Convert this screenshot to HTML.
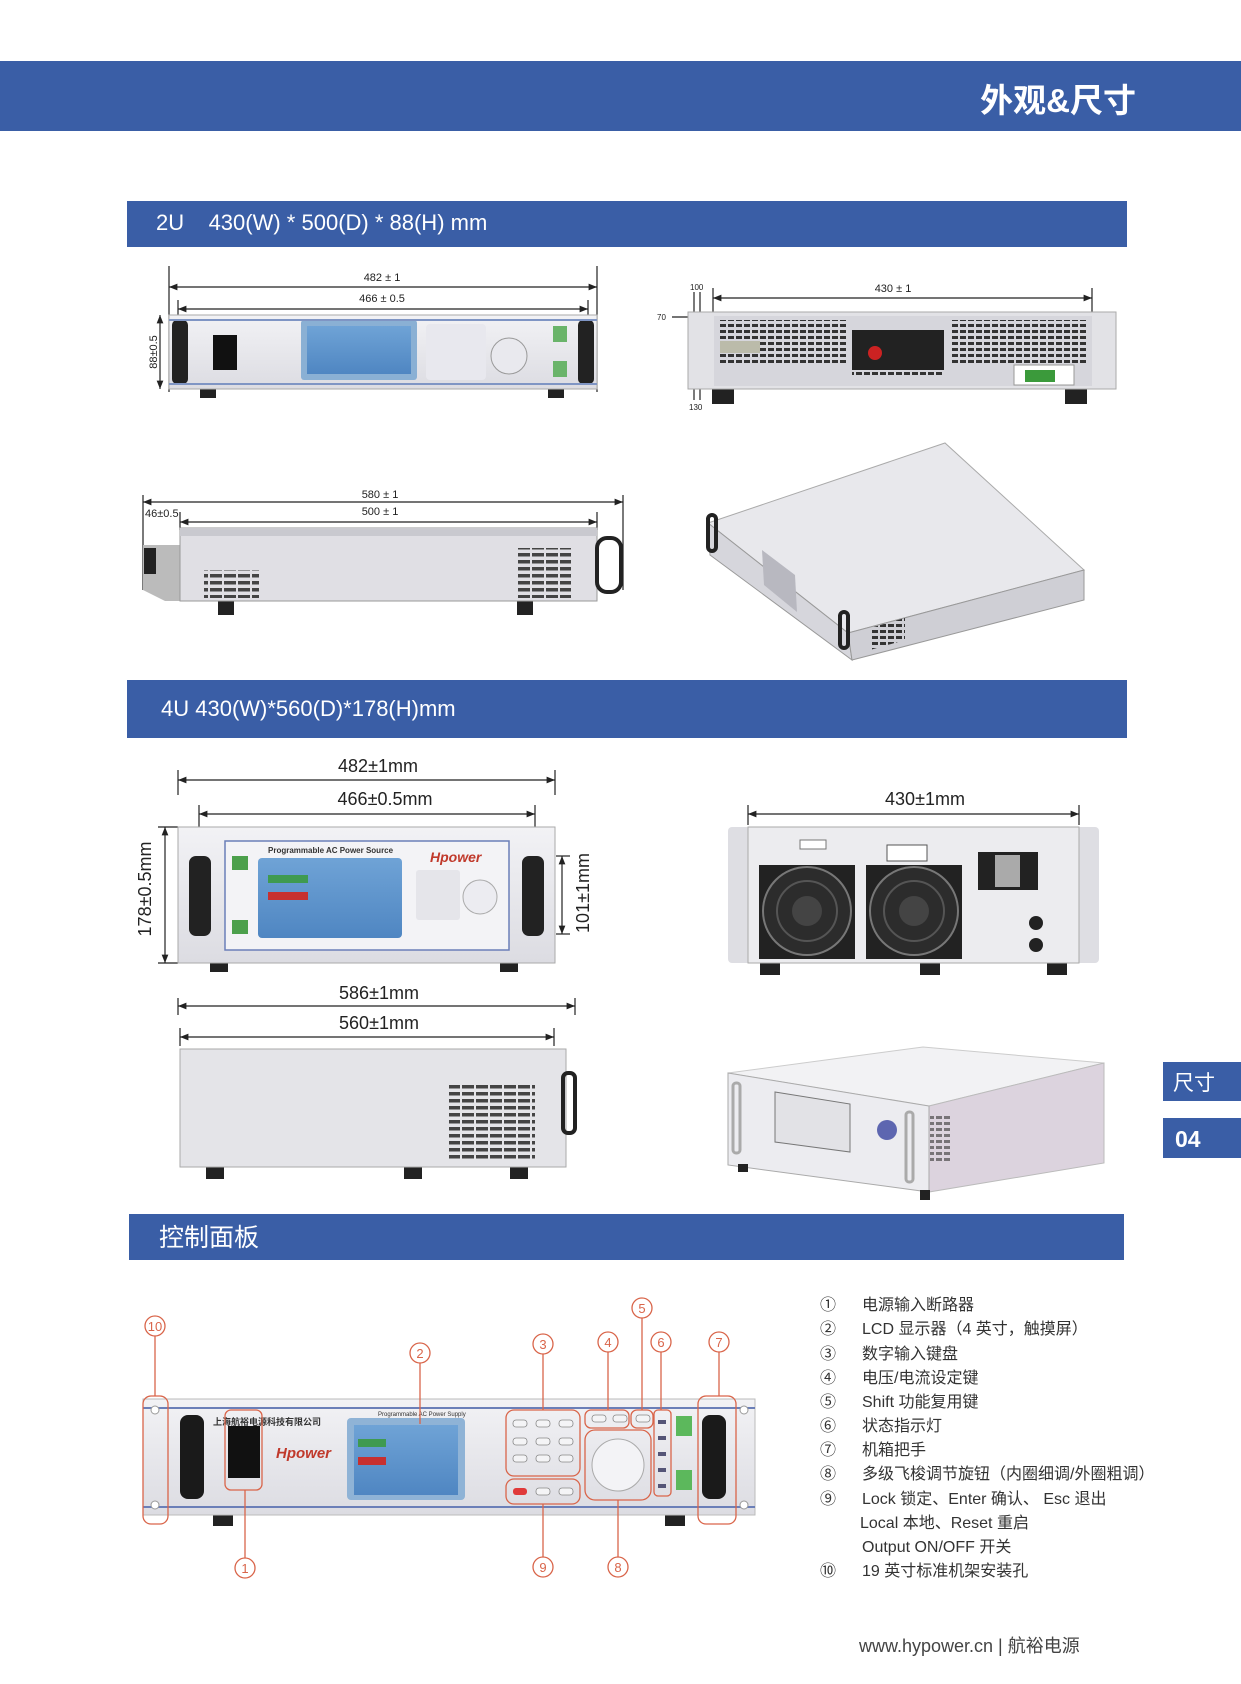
<!DOCTYPE html>
<html><head><meta charset="utf-8"><style>
html,body{margin:0;padding:0;background:#fff;}
svg{display:block;}
text{font-family:"Liberation Sans","Noto Sans CJK SC",sans-serif;}
</style></head><body>
<svg width="1241" height="1684" viewBox="0 0 1241 1684" xmlns="http://www.w3.org/2000/svg">
<defs>
<marker id="a" viewBox="0 0 10 10" refX="10" refY="5" markerWidth="7" markerHeight="7" orient="auto-start-reverse"><path d="M0,1 L10,5 L0,9 z" fill="#222"/></marker>
<linearGradient id="g1" x1="0" y1="0" x2="0" y2="1"><stop offset="0" stop-color="#f2f2f5"/><stop offset="1" stop-color="#dcdce2"/></linearGradient>
<linearGradient id="lcd" x1="0" y1="0" x2="0" y2="1"><stop offset="0" stop-color="#6fa3d6"/><stop offset="1" stop-color="#4f86c2"/></linearGradient>
<pattern id="vent" width="8" height="6" patternUnits="userSpaceOnUse"><rect width="6" height="3" fill="#333"/></pattern>
<pattern id="vent2" width="14" height="7" patternUnits="userSpaceOnUse"><rect width="12" height="3.5" fill="#444"/></pattern>
</defs>

<!-- top banner -->
<rect x="0" y="61" width="1241" height="70" fill="#3a5ea6"/>
<text x="1136" y="112" text-anchor="end" font-size="33" font-weight="bold" fill="#fff">外观&amp;尺寸</text>

<!-- section bars -->
<rect x="127" y="201" width="1000" height="46" fill="#3a5ea6"/>
<text x="156" y="230" font-size="22" fill="#fff" xml:space="preserve">2U    430(W) * 500(D) * 88(H) mm</text>
<rect x="127" y="680" width="1000" height="58" fill="#3a5ea6"/>
<text x="161" y="716" font-size="22" fill="#fff">4U 430(W)*560(D)*178(H)mm</text>
<rect x="129" y="1214" width="995" height="46" fill="#3a5ea6"/>
<text x="159" y="1246" font-size="25" fill="#fff">控制面板</text>

<!-- side tabs -->
<rect x="1163" y="1062" width="78" height="39" fill="#3a5ea6"/>
<text x="1173" y="1090" font-size="21" fill="#fff">尺寸</text>
<rect x="1163" y="1118" width="78" height="40" fill="#3a5ea6"/>
<text x="1175" y="1147" font-size="23" font-weight="bold" fill="#fff">04</text>

<g stroke="#222" stroke-width="1.2" fill="none">
<!-- 2U front dims -->
<line x1="169" y1="266" x2="169" y2="392"/><line x1="597" y1="266" x2="597" y2="392"/>
<line x1="169" y1="287" x2="597" y2="287" marker-start="url(#a)" marker-end="url(#a)"/>
<line x1="178" y1="300" x2="178" y2="320"/><line x1="588" y1="300" x2="588" y2="320"/>
<line x1="178" y1="309" x2="588" y2="309" marker-start="url(#a)" marker-end="url(#a)"/>
<line x1="160" y1="315" x2="160" y2="389" marker-start="url(#a)" marker-end="url(#a)"/>
<!-- 2U rear dims -->
<line x1="713" y1="288" x2="713" y2="315"/><line x1="1092" y1="288" x2="1092" y2="315"/>
<line x1="713" y1="298" x2="1092" y2="298" marker-start="url(#a)" marker-end="url(#a)"/>
<line x1="694" y1="292" x2="694" y2="318"/><line x1="700" y1="292" x2="700" y2="318"/>
<line x1="672" y1="317" x2="700" y2="317"/>
<line x1="694" y1="382" x2="694" y2="400"/><line x1="700" y1="382" x2="700" y2="400"/>
<!-- 2U side dims -->
<line x1="143" y1="495" x2="143" y2="590"/><line x1="623" y1="495" x2="623" y2="590"/>
<line x1="143" y1="502" x2="623" y2="502" marker-start="url(#a)" marker-end="url(#a)"/>
<line x1="180" y1="512" x2="180" y2="530"/><line x1="597" y1="512" x2="597" y2="530"/>
<line x1="180" y1="522" x2="597" y2="522" marker-start="url(#a)" marker-end="url(#a)"/>
<!-- 4U front dims -->
<line x1="178" y1="770" x2="178" y2="795"/><line x1="555" y1="770" x2="555" y2="795"/>
<line x1="178" y1="780" x2="555" y2="780" marker-start="url(#a)" marker-end="url(#a)"/>
<line x1="199" y1="805" x2="199" y2="830"/><line x1="535" y1="805" x2="535" y2="830"/>
<line x1="199" y1="814" x2="535" y2="814" marker-start="url(#a)" marker-end="url(#a)"/>
<line x1="165" y1="827" x2="165" y2="963" marker-start="url(#a)" marker-end="url(#a)"/>
<line x1="158" y1="827" x2="178" y2="827"/><line x1="158" y1="963" x2="178" y2="963"/>
<line x1="562" y1="856" x2="562" y2="934" marker-start="url(#a)" marker-end="url(#a)"/>
<line x1="556" y1="856" x2="570" y2="856"/><line x1="556" y1="934" x2="570" y2="934"/>
<!-- 4U rear dims -->
<line x1="748" y1="805" x2="748" y2="825"/><line x1="1079" y1="805" x2="1079" y2="825"/>
<line x1="748" y1="814" x2="1079" y2="814" marker-start="url(#a)" marker-end="url(#a)"/>
<!-- 4U side dims -->
<line x1="178" y1="998" x2="178" y2="1015"/><line x1="575" y1="998" x2="575" y2="1015"/>
<line x1="178" y1="1006" x2="575" y2="1006" marker-start="url(#a)" marker-end="url(#a)"/>
<line x1="180" y1="1028" x2="180" y2="1046"/><line x1="554" y1="1028" x2="554" y2="1046"/>
<line x1="180" y1="1037" x2="554" y2="1037" marker-start="url(#a)" marker-end="url(#a)"/>
</g>

<g fill="#222">
<text x="382" y="281" font-size="11" text-anchor="middle">482 ± 1</text>
<text x="382" y="302" font-size="11" text-anchor="middle">466 ± 0.5</text>
<text x="0" y="0" font-size="11" text-anchor="middle" transform="translate(157,352) rotate(-90)">88±0.5</text>
<text x="893" y="292" font-size="11" text-anchor="middle">430 ± 1</text>
<text x="690" y="290" font-size="8">100</text>
<text x="657" y="320" font-size="8">70</text>
<text x="689" y="410" font-size="8">130</text>
<text x="380" y="498" font-size="11" text-anchor="middle">580 ± 1</text>
<text x="380" y="515" font-size="11" text-anchor="middle">500 ± 1</text>
<text x="145" y="517" font-size="11">46±0.5</text>
<text x="378" y="772" font-size="18" text-anchor="middle">482±1mm</text>
<text x="385" y="805" font-size="18" text-anchor="middle">466±0.5mm</text>
<text x="0" y="0" font-size="18" text-anchor="middle" transform="translate(151,889) rotate(-90)">178±0.5mm</text>
<text x="0" y="0" font-size="18" text-anchor="middle" transform="translate(589,893) rotate(-90)">101±1mm</text>
<text x="925" y="805" font-size="18" text-anchor="middle">430±1mm</text>
<text x="379" y="999" font-size="18" text-anchor="middle">586±1mm</text>
<text x="379" y="1029" font-size="18" text-anchor="middle">560±1mm</text>
</g>

<!-- 2U front -->
<rect x="200" y="389" width="16" height="9" fill="#222"/><rect x="548" y="389" width="16" height="9" fill="#222"/>
<rect x="169" y="315" width="428" height="74" fill="url(#g1)" stroke="#aaa"/>
<rect x="172" y="320" width="16" height="64" rx="5" fill="#222"/><rect x="578" y="320" width="16" height="64" rx="5" fill="#222"/>
<rect x="213" y="335" width="24" height="35" fill="#111"/>
<rect x="301" y="320" width="116" height="60" rx="3" fill="#8ab0d4"/><rect x="307" y="326" width="104" height="48" fill="url(#lcd)"/>
<g fill="#cfd3db"><rect x="426" y="324" width="60" height="56" rx="4" fill="#e8e8ee"/></g>
<circle cx="509" cy="356" r="18" fill="#e9e9ee" stroke="#999"/>
<rect x="553" y="326" width="14" height="16" fill="#6ab46a"/><rect x="553" y="361" width="14" height="16" fill="#6ab46a"/>
<line x1="169" y1="320" x2="597" y2="320" stroke="#7f95c4" stroke-width="2"/>
<line x1="169" y1="384" x2="597" y2="384" stroke="#7f95c4" stroke-width="2"/>

<!-- 2U rear -->
<rect x="712" y="389" width="22" height="15" fill="#222"/><rect x="1065" y="389" width="22" height="15" fill="#222"/>
<rect x="688" y="312" width="428" height="77" fill="#e2e2e6" stroke="#aaa"/>
<rect x="714" y="316" width="378" height="70" fill="#d6d6dc"/>
<rect x="718" y="320" width="130" height="45" fill="url(#vent)"/>
<rect x="950" y="320" width="136" height="45" fill="url(#vent)"/>
<rect x="852" y="330" width="92" height="45" fill="url(#vent)"/>
<rect x="852" y="330" width="92" height="40" fill="#222"/><circle cx="875" cy="353" r="7" fill="#c22"/>
<rect x="1014" y="365" width="60" height="20" fill="#fff" stroke="#999"/><rect x="1025" y="370" width="30" height="12" fill="#3b9a3b"/>
<rect x="720" y="341" width="40" height="12" fill="#bba"/>

<!-- 2U side -->
<rect x="218" y="601" width="16" height="14" fill="#222"/><rect x="517" y="601" width="16" height="14" fill="#222"/>
<polygon points="143,545 180,545 180,601 165,601 143,590" fill="#bbb"/><rect x="144" y="548" width="12" height="26" fill="#222"/>
<rect x="180" y="528" width="417" height="73" fill="#e0dfe4" stroke="#999"/>
<rect x="180" y="528" width="417" height="8" fill="#c9c9cf"/>
<rect x="597" y="538" width="24" height="54" rx="10" fill="none" stroke="#222" stroke-width="4"/>
<rect x="204" y="570" width="55" height="28" fill="url(#vent2)"/>
<rect x="516" y="548" width="55" height="50" fill="url(#vent2)"/>

<!-- 2U iso -->
<polygon points="708,523 945,443 1084,570 848,633" fill="#e8e8ec" stroke="#aaa"/>
<polygon points="708,523 848,633 852,660 710,555" fill="#d6d6dc" stroke="#999"/>
<polygon points="848,633 1084,570 1084,600 852,660" fill="#cfcfd5" stroke="#999"/>
<polygon points="762,550 795,575 797,612 764,585" fill="#b8b8c0"/>
<rect x="708" y="515" width="8" height="36" rx="4" fill="none" stroke="#222" stroke-width="4"/>
<rect x="840" y="612" width="8" height="36" rx="4" fill="none" stroke="#222" stroke-width="4"/>
<polygon points="870,628 905,618 905,640 870,650" fill="url(#vent)"/>

<!-- 4U front -->
<rect x="210" y="963" width="18" height="9" fill="#222"/><rect x="500" y="963" width="18" height="9" fill="#222"/>
<rect x="178" y="827" width="377" height="136" fill="url(#g1)" stroke="#aaa"/>
<rect x="225" y="841" width="284" height="109" fill="#f3f3f6" stroke="#6b7fb8" stroke-width="1.5"/>
<rect x="189" y="856" width="22" height="80" rx="7" fill="#222"/><rect x="522" y="856" width="22" height="80" rx="7" fill="#222"/>
<rect x="258" y="858" width="144" height="80" rx="4" fill="url(#lcd)"/>
<text x="268" y="853" font-size="8" font-weight="bold" fill="#333">Programmable AC Power Source</text>
<rect x="268" y="875" width="40" height="8" fill="#3f9a50"/><rect x="268" y="892" width="40" height="8" fill="#c73030"/>
<rect x="232" y="856" width="16" height="14" fill="#4ca04c"/><rect x="232" y="920" width="16" height="14" fill="#4ca04c"/>
<circle cx="480" cy="897" r="17" fill="#ececf1" stroke="#aaa"/>
<rect x="416" y="870" width="44" height="50" rx="3" fill="#e5e5ea"/>
<text x="430" y="862" font-size="14" font-weight="bold" font-style="italic" fill="#c0392b">Hpower</text>

<!-- 4U rear -->
<rect x="760" y="963" width="20" height="12" fill="#222"/><rect x="920" y="963" width="20" height="12" fill="#222"/><rect x="1047" y="963" width="20" height="12" fill="#222"/>
<rect x="728" y="827" width="371" height="136" rx="4" fill="#dedee3"/>
<rect x="748" y="827" width="331" height="136" fill="#ececef" stroke="#aaa"/>
<rect x="759" y="865" width="96" height="94" fill="#222"/><rect x="866" y="865" width="96" height="94" fill="#222"/>
<circle cx="807" cy="911" r="44" fill="#2c2c2c" stroke="#777" stroke-width="2"/><circle cx="914" cy="911" r="44" fill="#2c2c2c" stroke="#777" stroke-width="2"/>
<circle cx="807" cy="911" r="30" fill="none" stroke="#555" stroke-width="2"/><circle cx="914" cy="911" r="30" fill="none" stroke="#555" stroke-width="2"/>
<circle cx="807" cy="911" r="15" fill="#444"/><circle cx="914" cy="911" r="15" fill="#444"/>
<rect x="978" y="852" width="60" height="38" fill="#222"/><rect x="995" y="855" width="25" height="32" fill="#aaa"/>
<circle cx="1036" cy="923" r="7" fill="#222"/><circle cx="1036" cy="945" r="7" fill="#222"/>
<rect x="887" y="845" width="40" height="16" fill="#fff" stroke="#555"/>
<rect x="800" y="840" width="26" height="9" fill="#fff" stroke="#777"/>

<!-- 4U side -->
<rect x="206" y="1167" width="18" height="12" fill="#222"/><rect x="404" y="1167" width="18" height="12" fill="#222"/><rect x="510" y="1167" width="18" height="12" fill="#222"/>
<rect x="180" y="1049" width="386" height="118" fill="#e4e4e8" stroke="#aaa"/>
<rect x="449" y="1083" width="86" height="78" fill="url(#vent2)"/>
<rect x="563" y="1073" width="12" height="60" rx="5" fill="none" stroke="#222" stroke-width="4"/>

<!-- 4U iso -->
<polygon points="728,1073 923,1047 1104,1063 929,1106" fill="#f2f2f4" stroke="#ccc"/>
<polygon points="929,1106 1104,1063 1104,1163 929,1192" fill="#dcd3de" stroke="#bbb"/>
<polygon points="728,1073 929,1106 929,1192 728,1165" fill="#ececf0" stroke="#aaa"/>
<polygon points="775,1092 850,1104 850,1152 775,1142" fill="#e2e2e6" stroke="#777"/>
<circle cx="887" cy="1130" r="10" fill="#5d66b0"/>
<rect x="733" y="1083" width="7" height="70" rx="3" fill="none" stroke="#aaa" stroke-width="3"/>
<rect x="906" y="1112" width="7" height="70" rx="3" fill="none" stroke="#aaa" stroke-width="3"/>
<rect x="930" y="1113" width="22" height="50" fill="url(#vent)" opacity="0.6"/>
<rect x="738" y="1164" width="10" height="8" fill="#222"/><rect x="920" y="1190" width="10" height="10" fill="#222"/>

<!-- control panel -->
<rect x="213" y="1514" width="20" height="12" fill="#222"/><rect x="665" y="1514" width="20" height="12" fill="#222"/>
<rect x="143" y="1399" width="612" height="116" fill="url(#g1)" stroke="#bbb"/>
<line x1="143" y1="1408" x2="755" y2="1408" stroke="#6b7fb8" stroke-width="2"/>
<line x1="143" y1="1507" x2="755" y2="1507" stroke="#6b7fb8" stroke-width="2"/>
<circle cx="155" cy="1410" r="4" fill="#fff" stroke="#999"/><circle cx="155" cy="1505" r="4" fill="#fff" stroke="#999"/>
<circle cx="744" cy="1410" r="4" fill="#fff" stroke="#999"/><circle cx="744" cy="1505" r="4" fill="#fff" stroke="#999"/>
<rect x="180" y="1415" width="24" height="84" rx="8" fill="#1a1a1a"/><rect x="702" y="1415" width="24" height="84" rx="8" fill="#1a1a1a"/>
<rect x="228" y="1426" width="32" height="52" fill="#111"/>
<text x="213" y="1425" font-size="9" font-weight="bold" fill="#333">上海航裕电源科技有限公司</text>
<text x="276" y="1458" font-size="15" font-weight="bold" font-style="italic" fill="#c0392b">Hpower</text>
<rect x="347" y="1418" width="118" height="82" rx="4" fill="#8fb3d6"/>
<rect x="354" y="1425" width="104" height="70" fill="url(#lcd)"/>
<rect x="358" y="1439" width="28" height="8" fill="#3f9a50"/><rect x="358" y="1457" width="28" height="8" fill="#c73030"/>
<text x="378" y="1416" font-size="6" fill="#333">Programmable AC Power Supply</text>
<g fill="#f4f4f6" stroke="#888" stroke-width="0.8">
<rect x="513" y="1420" width="14" height="7" rx="3"/><rect x="536" y="1420" width="14" height="7" rx="3"/><rect x="559" y="1420" width="14" height="7" rx="3"/>
<rect x="513" y="1438" width="14" height="7" rx="3"/><rect x="536" y="1438" width="14" height="7" rx="3"/><rect x="559" y="1438" width="14" height="7" rx="3"/>
<rect x="513" y="1455" width="14" height="7" rx="3"/><rect x="536" y="1455" width="14" height="7" rx="3"/><rect x="559" y="1455" width="14" height="7" rx="3"/>
<rect x="536" y="1488" width="14" height="7" rx="3"/><rect x="559" y="1488" width="14" height="7" rx="3"/>
<rect x="592" y="1415" width="14" height="7" rx="3"/><rect x="613" y="1415" width="14" height="7" rx="3"/><rect x="636" y="1415" width="14" height="7" rx="3"/>
</g>
<rect x="513" y="1488" width="14" height="7" rx="3" fill="#e03a3a"/>
<circle cx="618" cy="1465" r="26" fill="#f3f3f6" stroke="#aaa"/>
<g fill="#557">
<rect x="658" y="1420" width="8" height="4"/><rect x="658" y="1436" width="8" height="4"/><rect x="658" y="1452" width="8" height="4"/><rect x="658" y="1468" width="8" height="4"/><rect x="658" y="1484" width="8" height="4"/>
</g>
<rect x="676" y="1416" width="16" height="20" fill="#5cb85c"/><rect x="676" y="1470" width="16" height="20" fill="#5cb85c"/>

<!-- callouts -->
<g stroke="#d9654a" stroke-width="1.3" fill="none">
<rect x="143" y="1396" width="25" height="128" rx="8"/>
<rect x="698" y="1396" width="38" height="128" rx="8"/>
<rect x="225" y="1410" width="37" height="80" rx="6"/>
<rect x="506" y="1410" width="74" height="66" rx="8"/>
<rect x="506" y="1479" width="74" height="25" rx="8"/>
<rect x="585" y="1410" width="44" height="18" rx="6"/>
<rect x="631" y="1410" width="22" height="18" rx="6"/>
<rect x="585" y="1430" width="66" height="70" rx="10"/>
<rect x="654" y="1410" width="17" height="86" rx="4"/>
<line x1="155" y1="1336" x2="155" y2="1396"/>
<line x1="420" y1="1363" x2="420" y2="1424"/>
<line x1="543" y1="1354" x2="543" y2="1410"/>
<line x1="608" y1="1352" x2="608" y2="1410"/>
<line x1="642" y1="1318" x2="642" y2="1410"/>
<line x1="661" y1="1352" x2="661" y2="1410"/>
<line x1="719" y1="1352" x2="719" y2="1396"/>
<line x1="245" y1="1490" x2="245" y2="1558"/>
<line x1="543" y1="1504" x2="543" y2="1557"/>
<line x1="618" y1="1500" x2="618" y2="1557"/>
<circle cx="155" cy="1326" r="10"/><circle cx="420" cy="1353" r="10"/><circle cx="543" cy="1344" r="10"/>
<circle cx="608" cy="1342" r="10"/><circle cx="642" cy="1308" r="10"/><circle cx="661" cy="1342" r="10"/>
<circle cx="719" cy="1342" r="10"/><circle cx="245" cy="1568" r="10"/><circle cx="543" cy="1567" r="10"/><circle cx="618" cy="1567" r="10"/>
</g>
<g fill="#d9654a" font-size="13" text-anchor="middle">
<text x="155" y="1331">10</text><text x="420" y="1358">2</text><text x="543" y="1349">3</text>
<text x="608" y="1347">4</text><text x="642" y="1313">5</text><text x="661" y="1347">6</text>
<text x="719" y="1347">7</text><text x="245" y="1573">1</text><text x="543" y="1572">9</text><text x="618" y="1572">8</text>
</g>

<!-- legend -->
<g font-size="16" fill="#333">
<text x="820" y="1310">①</text><text x="862" y="1310">电源输入断路器</text>
<text x="820" y="1334">②</text><text x="862" y="1334">LCD 显示器（4 英寸，触摸屏）</text>
<text x="820" y="1359">③</text><text x="862" y="1359">数字输入键盘</text>
<text x="820" y="1383">④</text><text x="862" y="1383">电压/电流设定键</text>
<text x="820" y="1407">⑤</text><text x="862" y="1407">Shift 功能复用键</text>
<text x="820" y="1431">⑥</text><text x="862" y="1431">状态指示灯</text>
<text x="820" y="1455">⑦</text><text x="862" y="1455">机箱把手</text>
<text x="820" y="1479">⑧</text><text x="862" y="1479">多级飞梭调节旋钮（内圈细调/外圈粗调）</text>
<text x="820" y="1504">⑨</text><text x="862" y="1504">Lock 锁定、Enter 确认、 Esc 退出</text>
<text x="860" y="1528">Local 本地、Reset 重启</text>
<text x="862" y="1552">Output ON/OFF 开关</text>
<text x="820" y="1576">⑩</text><text x="862" y="1576">19 英寸标准机架安装孔</text>
</g>

<text x="859" y="1652" font-size="18" fill="#444">www.hypower.cn  |  航裕电源</text>
</svg>
</body></html>
